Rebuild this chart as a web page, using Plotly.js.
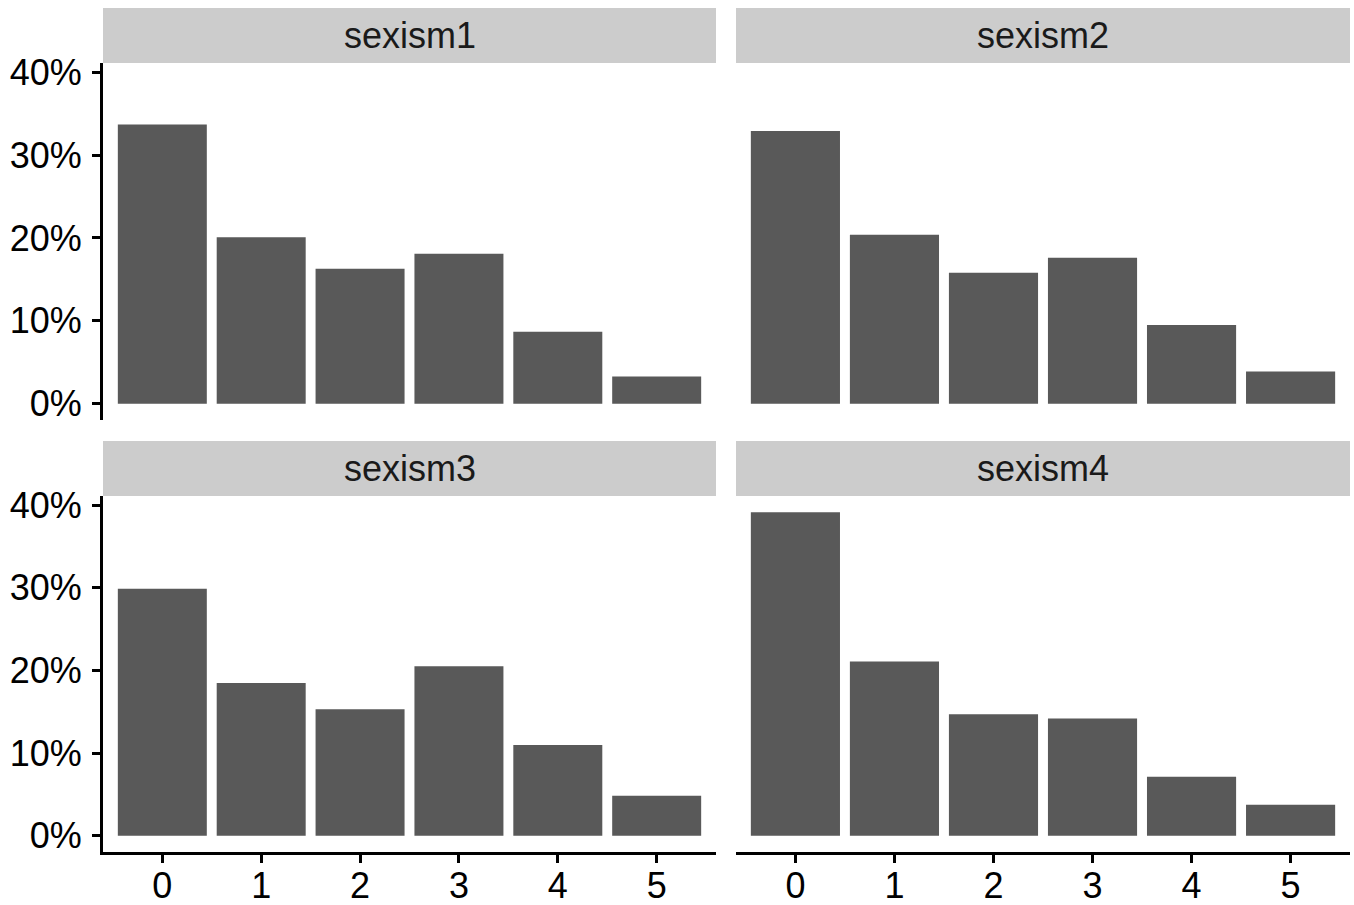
<!DOCTYPE html>
<html>
<head>
<meta charset="utf-8">
<script src="https://cdn.plot.ly/plotly-3.0.1.min.js"></script>
<style>html,body{margin:0;padding:0;background:#fff;}#chart{width:1354px;height:905px;}</style>
</head>
<body>
<div id="chart"></div>
<script>
// Data (percent of respondents per response category)
const categories = [0, 1, 2, 3, 4, 5];
const panelNames = ["sexism1", "sexism2", "sexism3", "sexism4"];
const sexism1 = [33.7, 20.1, 16.3, 18.1, 8.7, 3.3];
const sexism2 = [32.9, 20.4, 15.8, 17.6, 9.5, 3.9];
const sexism3 = [29.9, 18.5, 15.3, 20.5, 11.0, 4.85];
const sexism4 = [39.15, 21.1, 14.7, 14.2, 7.15, 3.76];
const yTicks = [0, 10, 20, 30, 40];
const yTickText = ["0%", "10%", "20%", "30%", "40%"];

const W = 1354, H = 905;
const series = [sexism1, sexism2, sexism3, sexism4];
const barColor = "#595959";
const stripColor = "#CCCCCC";
const font = "Liberation Sans, Arial, Helvetica, sans-serif";
const fs = 36;

// panel pixel boxes
const colX = [[103, 716], [736, 1350]];
const rowY = [[63, 420], [496, 852]];
const stripH = 55;

const traces = [];
const layout = {
  width: W, height: H,
  margin: {l: 0, r: 0, t: 0, b: 0, pad: 0},
  paper_bgcolor: "#fff", plot_bgcolor: "#fff",
  showlegend: false,
  bargap: 0.1,
  font: {family: font, size: fs, color: "#000"},
  shapes: [], annotations: []
};

series.forEach((vals, i) => {
  const r = Math.floor(i / 2), c = i % 2;
  const n = i + 1;
  const sfx = n === 1 ? "" : String(n);
  traces.push({
    type: "bar", x: categories, y: vals, xaxis: "x" + sfx, yaxis: "y" + sfx,
    marker: {color: barColor, line: {width: 0}}, hoverinfo: "skip"
  });
  const [x0, x1] = colX[c];
  const [yt, yb] = rowY[r];
  const showX = r === 1, showY = c === 0;
  layout["xaxis" + sfx] = {
    domain: [x0 / W, x1 / W], anchor: "y" + sfx,
    range: [-0.6, 5.6], fixedrange: true,
    tickmode: "array", tickvals: categories, ticktext: categories.map(String),
    showline: showX, linecolor: "#000", linewidth: 3,
    ticks: showX ? "outside" : "", ticklen: 8, tickwidth: 3, tickcolor: "#000",
    showticklabels: showX, tickfont: {size: fs, color: "#000", family: font},
    ticklabelstandoff: -8,
    showgrid: false, zeroline: false
  };
  layout["yaxis" + sfx] = {
    domain: [(H - yb) / H, (H - yt) / H], anchor: "x" + sfx,
    range: [-1.96, 41.11], fixedrange: true,
    tickmode: "array", tickvals: yTicks, ticktext: yTickText,
    showline: showY, linecolor: "#000", linewidth: 3,
    ticks: showY ? "outside" : "", ticklen: 8, tickwidth: 3, tickcolor: "#000",
    showticklabels: showY, tickfont: {size: fs, color: "#000", family: font},
    ticklabelstandoff: 3,
    showgrid: false, zeroline: false
  };
  layout.shapes.push({
    type: "rect", xref: "paper", yref: "paper",
    x0: x0 / W, x1: x1 / W, y0: (H - yt) / H, y1: (H - yt + stripH) / H,
    fillcolor: stripColor, line: {width: 0}, layer: "below"
  });
  layout.annotations.push({
    xref: "paper", yref: "paper", x: (x0 + x1) / 2 / W, y: (H - yt + stripH / 2) / H,
    text: panelNames[i], showarrow: false, xanchor: "center", yanchor: "middle",
    font: {size: fs, color: "#1a1a1a", family: font}
  });
});

Plotly.newPlot("chart", traces, layout, {staticPlot: true, displayModeBar: false});
</script>
</body>
</html>
